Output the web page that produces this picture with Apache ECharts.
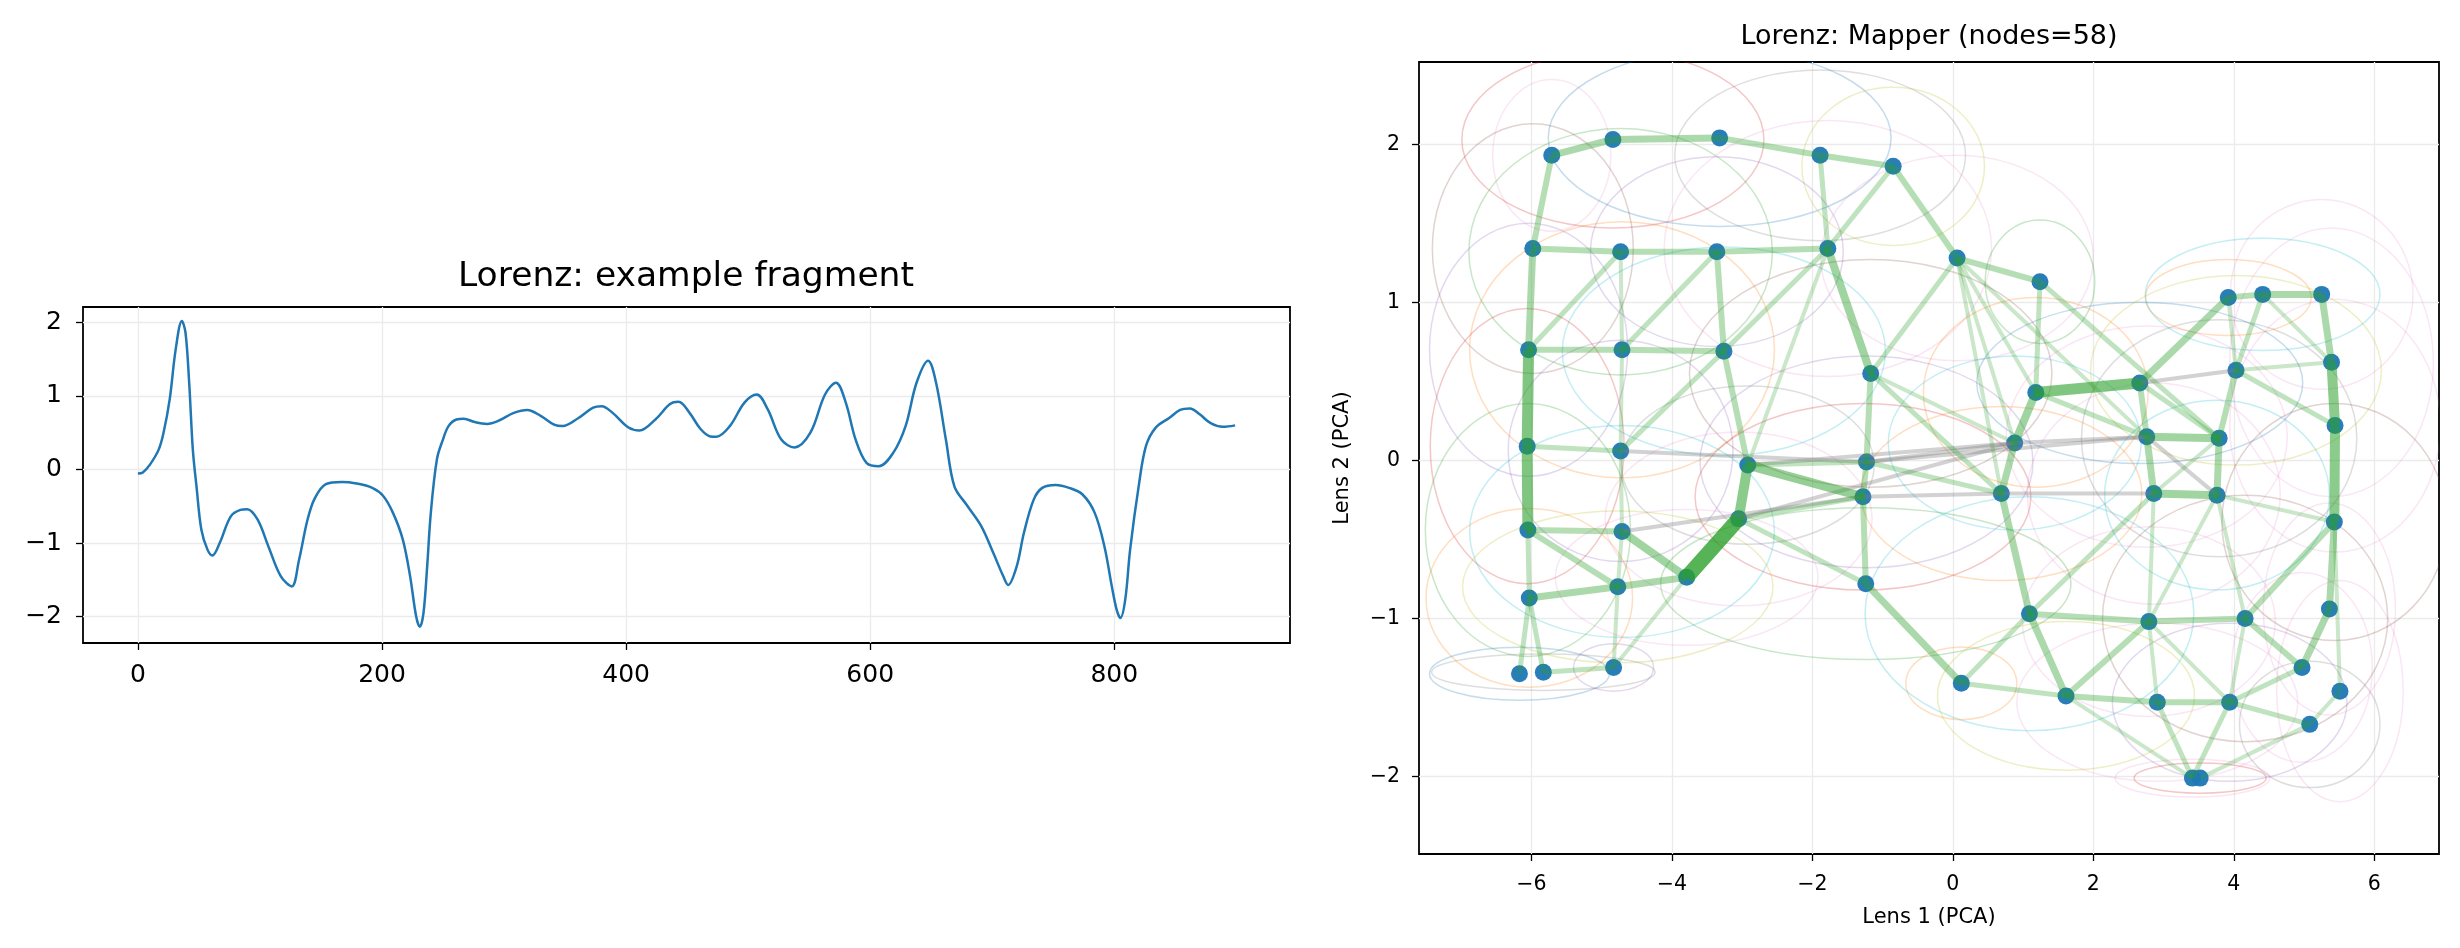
<!DOCTYPE html>
<html>
<head>
<meta charset="utf-8">
<title>Lorenz: fragment and Mapper graph</title>
<script src="https://cdn.jsdelivr.net/npm/echarts@6.0.0/dist/echarts.min.js"></script>
<style>
  html, body { margin: 0; padding: 0; background: #fff; }
  #chart { width: 2460px; height: 948px; }
</style>
</head>
<body>
<div id="chart"></div>
<script>
// ---- left panel: fragment of the Lorenz signal, [t, value] ----
const fragment = [
  [0, -0.055], [4, -0.04], [10, 0.07], [17, 0.27], [21, 0.5], [26, 0.95], [31, 1.64], [36, 2.02],
  [39, 1.86], [42, 1.18], [45, 0.27], [48, -0.23], [52, -0.82], [57, -1.09], [61, -1.17], [67, -1.0],
  [76, -0.64], [84, -0.55], [89.5, -0.54], [98, -0.68], [107, -1.05], [117, -1.45], [126, -1.59],
  [132, -1.23], [139, -0.68], [145, -0.39], [154, -0.2], [167, -0.17], [179, -0.19], [192, -0.25],
  [201, -0.36], [209, -0.59], [217, -0.95], [223, -1.45], [228, -2.0], [231, -2.14], [234, -1.95],
  [237, -1.32], [240, -0.59], [245, 0.14], [250, 0.41], [254.5, 0.59], [261, 0.68], [267, 0.69],
  [276, 0.645], [286, 0.62], [295, 0.66], [308, 0.77], [319, 0.81], [330, 0.73], [341, 0.61],
  [348, 0.59], [361, 0.70], [373, 0.84], [380, 0.86], [389, 0.77], [402, 0.57], [411, 0.53],
  [424, 0.68], [436, 0.89], [443, 0.92], [452, 0.77], [461, 0.55], [469, 0.45], [474, 0.445],
  [485, 0.59], [497, 0.91], [507, 1.02], [516, 0.82], [527, 0.41], [538, 0.30], [551, 0.5],
  [563, 1.02], [572, 1.18], [580, 0.91], [588, 0.41], [597, 0.09], [607, 0.045], [619, 0.23],
  [629, 0.59], [638, 1.18], [647.5, 1.48], [654, 1.18], [662, 0.41], [669, -0.23], [679, -0.48],
  [691, -0.77], [701, -1.14], [709, -1.45], [713, -1.57], [720, -1.32], [726, -0.86], [734, -0.41],
  [741, -0.25], [752, -0.21], [763, -0.25], [774, -0.34], [784, -0.59], [792, -1.05], [798, -1.59],
  [802, -1.91], [805, -2.02], [809, -1.77], [813, -1.09], [820, -0.23], [826, 0.32], [834, 0.57],
  [845, 0.70], [854, 0.81], [862, 0.83], [870, 0.75], [879, 0.63], [889, 0.58], [899, 0.60]
];
const fragXTicks = [0, 200, 400, 600, 800];
const fragYTicks = [-2, -1, 0, 1, 2];

// ---- right panel: Mapper graph, 58 nodes (numbered from 1) ----
const nodeX = [
  -5.71, -4.84, -3.32, -1.89, -0.85, -5.98, -4.73, -3.36, -1.78, 0.06,
  1.24, -6.04, -4.71, -3.26, -1.17, 3.92, 4.41, 5.25, 1.18, 2.66,
  4.03, 5.39, -6.06, -4.73, -2.92, -1.23, 0.88, 2.76, 3.79, 5.44,
  -1.28, 0.69, 2.86, 3.76, -6.05, -4.71, -3.05, -3.79, 5.43, -6.03,
  -4.77, -1.24, 1.09, 2.79, 4.16, 5.36, -6.17, -5.83, -4.83, 0.12,
  1.61, 2.91, 3.94, 4.97, 5.51, 5.08, 3.41, 3.52
];
const nodeY = [
  1.93, 2.03, 2.04, 1.93, 1.86, 1.34, 1.32, 1.32, 1.34, 1.28,
  1.13, 0.70, 0.70, 0.69, 0.55, 1.03, 1.05, 1.05, 0.43, 0.49,
  0.57, 0.62, 0.09, 0.06, -0.03, -0.01, 0.11, 0.15, 0.14, 0.22,
  -0.23, -0.21, -0.21, -0.22, -0.44, -0.45, -0.37, -0.74, -0.39, -0.87,
  -0.80, -0.78, -0.97, -1.02, -1.00, -0.94, -1.35, -1.34, -1.31, -1.41,
  -1.49, -1.53, -1.53, -1.31, -1.46, -1.67, -2.01, -2.01
];
// cover spread of each node (ellipse half-axes, data units) and its colour slot
const coverRx = [
  0.84, 2.15, 2.44, 2.07, 1.3, 1.43, 2.16, 1.8, 2.33, 1.94,
  0.78, 1.41, 2.17, 2.3, 2.58, 1.18, 1.67, 1.3, 1.6, 2.32,
  2.07, 1.45, 1.38, 1.6, 1.8, 2.37, 1.8, 2.0, 1.96, 1.5,
  2.39, 2.0, 1.8, 1.6, 1.46, 2.17, 1.9, 1.87, 1.6, 1.47,
  2.21, 2.92, 2.34, 1.8, 2.03, 0.94, 1.28, 1.59, 0.57, 0.79,
  1.83, 2.0, 1.67, 1.0, 0.9, 1.0, 1.1, 0.94
];
const coverRy = [
  0.48, 0.56, 0.56, 0.54, 0.5, 0.79, 0.78, 0.6, 0.81, 0.65,
  0.39, 0.8, 0.81, 0.66, 0.72, 0.24, 0.355, 0.6, 0.6, 0.51,
  0.6, 0.85, 0.87, 0.7, 0.5, 0.67, 0.55, 0.7, 0.75, 0.8,
  0.59, 0.55, 0.7, 0.6, 0.8, 0.67, 0.55, 0.43, 0.75, 0.565,
  0.48, 0.48, 0.74, 0.6, 0.78, 0.67, 0.168, 0.115, 0.15, 0.23,
  0.47, 0.5, 0.5, 0.6, 0.7, 0.4, 0.12, 0.095
];
const coverColor = [
  6, 3, 0, 7, 8, 5, 2, 4, 6, 6,
  2, 4, 1, 9, 5, 1, 9, 6, 1, 0,
  8, 6, 3, 4, 7, 4, 9, 6, 7, 6,
  3, 1, 6, 9, 2, 9, 6, 6, 5, 1,
  8, 2, 9, 6, 5, 6, 0, 7, 4, 1,
  8, 6, 4, 6, 6, 7, 6, 3
];
// [from, to, weight]
const edges = [
  [1, 2, 5], [2, 3, 5], [3, 4, 4], [4, 5, 4], [1, 6, 4], [4, 9, 3], [5, 9, 3], [5, 10, 4],
  [6, 7, 4], [7, 8, 4], [8, 9, 4], [6, 12, 5], [7, 12, 3], [7, 13, 2], [8, 13, 3], [8, 14, 4],
  [9, 14, 3], [9, 15, 6], [9, 25, 2], [10, 15, 3], [10, 11, 4], [10, 27, 2], [10, 32, 2],
  [10, 19, 2], [10, 28, 2], [11, 19, 3], [11, 29, 3], [12, 13, 4], [13, 14, 4], [12, 23, 9],
  [13, 24, 2], [14, 24, 3], [14, 25, 4], [15, 26, 4], [15, 32, 3], [15, 27, 2], [23, 24, 3],
  [23, 35, 9], [24, 36, 2], [25, 26, 3], [25, 31, 7], [25, 37, 8], [26, 31, 4], [26, 32, 3],
  [31, 42, 4], [35, 36, 4], [35, 40, 3], [35, 41, 4], [36, 38, 6], [36, 41, 2], [37, 38, 13],
  [38, 41, 5], [40, 41, 5], [40, 47, 3], [40, 48, 3], [41, 49, 2], [48, 49, 3], [49, 38, 2],
  [37, 31, 3], [37, 42, 3], [42, 50, 5], [19, 20, 9], [19, 27, 6], [27, 32, 5], [20, 16, 5],
  [20, 28, 4], [20, 29, 3], [19, 28, 3], [16, 17, 4], [17, 18, 5], [16, 21, 2], [17, 21, 3],
  [17, 22, 2], [18, 22, 5], [22, 30, 8], [30, 39, 8], [39, 46, 5], [46, 54, 5], [21, 29, 4],
  [21, 22, 2], [21, 30, 3], [28, 29, 6], [28, 33, 5], [29, 34, 5], [33, 34, 6], [29, 33, 2],
  [32, 43, 5], [43, 51, 5], [43, 44, 4], [44, 45, 4], [45, 39, 4], [45, 34, 2], [44, 33, 2],
  [33, 43, 3], [34, 44, 2], [34, 39, 2], [43, 50, 3], [50, 51, 3], [51, 52, 4], [52, 53, 4],
  [53, 54, 3], [45, 54, 4], [45, 53, 2], [44, 51, 4], [44, 52, 2], [53, 56, 3], [55, 56, 2],
  [39, 55, 2], [52, 57, 3], [53, 57, 3], [51, 57, 2], [56, 58, 2], [44, 53, 2]
];
const grayEdges = [
  [24, 26, 2], [25, 27, 2], [26, 27, 2], [26, 28, 2], [31, 32, 2], [32, 33, 2],
  [27, 28, 2], [28, 34, 2], [36, 31, 2], [37, 27, 2], [20, 21, 2]
];
const lensXTicks = [-6, -4, -2, 0, 2, 4, 6];
const lensYTicks = [-2, -1, 0, 1, 2];

const tab10 = ['#1f77b4', '#ff7f0e', '#2ca02c', '#d62728', '#9467bd',
  '#8c564b', '#e377c2', '#7f7f7f', '#bcbd22', '#17becf'];
const FONT = 'DejaVu Sans';
const minus = (v) => String(v).replace('-', '\u2212');

// data for the custom series
const coverData = nodeX.map((x, i) => [x, nodeY[i], coverRx[i], coverRy[i], coverColor[i]]);
const toSeg = (flag) => ([a, b, w]) =>
  [nodeX[a - 1], nodeY[a - 1], nodeX[b - 1], nodeY[b - 1], w, flag];
const edgeData = grayEdges.map(toSeg(1)).concat(edges.map(toSeg(0)));
const nodeData = nodeX.map((x, i) => [x, nodeY[i]]);

function renderCover(params, api) {
  const c = api.coord([api.value(0), api.value(1)]);
  const s = api.size([api.value(2), api.value(3)]);
  const col = api.value(4);
  return {
    type: 'ellipse',
    shape: { cx: c[0], cy: c[1], rx: s[0], ry: s[1] },
    // pink outlines are the faintest in the picture
    style: { fill: 'none', stroke: tab10[col], lineWidth: 1.5, opacity: col === 6 ? 0.18 : 0.26 }
  };
}

function renderEdge(params, api) {
  const p1 = api.coord([api.value(0), api.value(1)]);
  const p2 = api.coord([api.value(2), api.value(3)]);
  const w = api.value(4);
  return {
    type: 'line',
    shape: { x1: p1[0], y1: p1[1], x2: p2[0], y2: p2[1] },
    style: {
      stroke: api.value(5) ? '#7f7f7f' : '#2ca02c',
      lineWidth: 2 + w,
      opacity: api.value(5) ? 0.35 : 0.15 + 0.05 * w
    }
  };
}

function valueAxis(gridIndex, min, max, ticks, fontSize, margin) {
  return {
    type: 'value',
    gridIndex,
    min,
    max,
    axisLine: { show: false, onZero: false },
    axisTick: { show: true, customValues: ticks, length: 7, lineStyle: { color: '#000', width: 1.3 } },
    axisLabel: { customValues: ticks, formatter: minus, color: '#000', fontFamily: FONT, fontSize, margin },
    splitLine: { show: true, lineStyle: { color: '#ebebeb', width: 1.3 } }
  };
}

const chart = echarts.init(document.getElementById('chart'));
const xLeft = valueAxis(0, -45, 944, fragXTicks, 25, 20);
const yLeft = valueAxis(0, -2.36, 2.21, fragYTicks, 25, 21);
const xRight = Object.assign(valueAxis(1, -7.6, 6.92, lensXTicks, 20.5, 20), {
  name: 'Lens 1 (PCA)', nameLocation: 'middle', nameGap: 53,
  nameTextStyle: { fontFamily: FONT, fontSize: 21, color: '#000' }
});
const yRight = Object.assign(valueAxis(1, -2.49, 2.52, lensYTicks, 20.5, 19), {
  name: 'Lens 2 (PCA)', nameLocation: 'middle', nameGap: 66,
  nameTextStyle: { fontFamily: FONT, fontSize: 21, color: '#000' }
});

chart.setOption({
  animation: false,
  backgroundColor: '#fff',
  graphic: [
    { type: 'text', x: 686, y: 277, style: { text: 'Lorenz: example fragment', fill: '#000',
      font: '34.5px "DejaVu Sans"', textAlign: 'center', textVerticalAlign: 'middle' } },
    { type: 'text', x: 1929, y: 37, style: { text: 'Lorenz: Mapper (nodes=58)', fill: '#000',
      font: '27px "DejaVu Sans"', textAlign: 'center', textVerticalAlign: 'middle' } }
  ],
  grid: [
    { left: 83, top: 307, width: 1207, height: 336, show: true, borderColor: '#000', borderWidth: 1.8 },
    { left: 1419, top: 62, width: 1020, height: 792, show: true, borderColor: '#000', borderWidth: 1.8 }
  ],
  xAxis: [xLeft, xRight],
  yAxis: [yLeft, yRight],
  series: [
    {
      type: 'line',
      xAxisIndex: 0,
      yAxisIndex: 0,
      data: fragment,
      showSymbol: false,
      smooth: 0.35,
      lineStyle: { color: '#1f77b4', width: 2.5 },
      silent: true
    },
    {
      type: 'custom',
      xAxisIndex: 1,
      yAxisIndex: 1,
      data: coverData,
      renderItem: renderCover,
      clip: true,
      silent: true,
      z: 1
    },
    {
      type: 'scatter',
      xAxisIndex: 1,
      yAxisIndex: 1,
      data: nodeData,
      symbolSize: 17,
      itemStyle: { color: '#1f77b4', opacity: 0.95 },
      silent: true,
      z: 2
    },
    {
      type: 'custom',
      xAxisIndex: 1,
      yAxisIndex: 1,
      data: edgeData,
      renderItem: renderEdge,
      clip: true,
      silent: true,
      z: 3
    }
  ]
});
window.addEventListener('resize', () => chart.resize());
</script>
</body>
</html>
